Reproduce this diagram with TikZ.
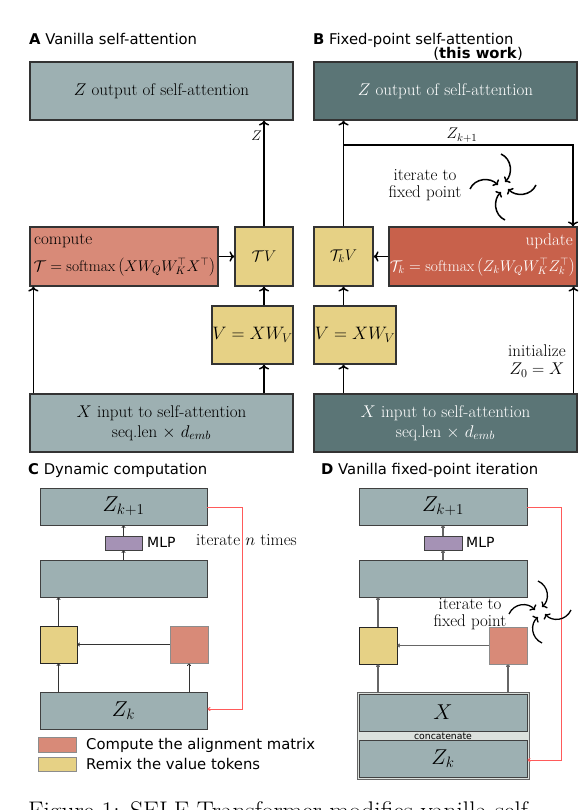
\RequirePackage{fix-cm}
\documentclass[tikz,border=0pt]{standalone}
\usepackage{fontspec}
\newfontfamily\sansdv{DejaVu Sans}
\usetikzlibrary{arrows.meta}
\definecolor{cGray}{HTML}{9DB0B2}
\definecolor{cDark}{HTML}{5B7576}
\definecolor{cSalmon}{HTML}{D88A78}
\definecolor{cUpdate}{HTML}{C8614B}
\definecolor{cYellow}{HTML}{E6D185}
\definecolor{cMlp}{HTML}{A592B5}
\definecolor{cConcat}{HTML}{DCE1DD}
\definecolor{cRed}{HTML}{FF5A5A}
\tikzset{
  box/.style={draw=black!80, line width=1.3pt, inner sep=0pt, align=center, font=\fontsize{17}{20}\selectfont},
  gbox/.style={box, fill=cGray},
  dbox/.style={box, fill=cDark, text=white},
  sbox/.style={box, fill=cSalmon},
  ubox/.style={box, fill=cUpdate, text=white},
  ybox/.style={box, fill=cYellow},
  txt/.style={inner sep=0pt, align=center, font=\fontsize{17}{16.5}\selectfont},
  form/.style={inner sep=0pt, font=\fontsize{15.5}{17}\selectfont},
  ttl/.style={inner sep=0pt, font=\sansdv\fontsize{14.8}{17}\selectfont},
  conn/.style={-To, line width=1.5pt},
  swirl/.style={-{To[length=4pt,width=9pt]}, line width=1.5pt},
  cbox/.style={draw=black!75, line width=0.9pt, inner sep=0pt, font=\fontsize{21.5}{24}\selectfont},
  carrow/.style={-{To[length=2.5pt,width=4pt]}, line width=0.8pt, draw=black!80},
  darrow/.style={carrow, draw=black!60, line width=1.2pt},
  loopline/.style={draw=cRed, line width=1pt, -{To[length=3pt,width=4pt]}}
}
\begin{document}
\begin{tikzpicture}[x=1pt, y=-1pt]
\useasboundingbox (0,0) rectangle (578,810);
\clip (0,0) rectangle (578,810);

% A: vanilla self-attention
\node[ttl, anchor=base west] (ttlA) at (29,45) {\textbf{A} Vanilla self-attention};
\node[gbox, minimum width=263pt, minimum height=58pt] (outA) at (161.5,91) {$Z$ output of self-attention};
\node[sbox, minimum width=188pt, minimum height=59pt] (compA) at (124,256.5) {};
\node[txt, anchor=base west] (compLbl) at (34,244) {compute};
\node[form] (compForm) at (124.5,267) {$\mathcal{T} = \mathrm{softmax}\left(XW_QW_K^\top X^\top\right)$};
\node[ybox, minimum width=58pt, minimum height=59pt, font=\fontsize{15.5}{17}\selectfont] (tvA) at (264,256.5) {$\mathcal{T}V$};
\node[ybox, minimum width=81pt, minimum height=58pt, font=\fontsize{18}{21}\selectfont] (vA) at (252.5,335) {$V = XW_V$};
\node[gbox, minimum width=263pt, minimum height=58pt] (xinA) at (161.5,423) {$X$ input to self-attention\\ seq.len $\times$ $d_{emb}$};
\draw[conn] (tvA.north) -- (tvA.north |- outA.south) node[pos=0.86, left=1.5pt, inner sep=0pt, font=\fontsize{14}{15}\selectfont] {$Z$};
\draw[conn] (compA.east) -- (tvA.west);
\draw[conn] (vA.north -| tvA) -- (tvA.south);
\draw[conn] (xinA.north -| tvA) -- (vA.south -| tvA);
\draw[conn] ([xshift=4pt]xinA.north west) -- ([xshift=4pt]compA.south west);

% B: fixed-point self-attention
\node[ttl, anchor=base west] (ttlB) at (313,45) {\textbf{B} Fixed-point self-attention};
\node[ttl, anchor=base east] (ttlB2) at (523,59) {(\textbf{this work})};
\node[dbox, minimum width=263pt, minimum height=58pt] (outB) at (445.5,91) {$Z$ output of self-attention};
\node[ybox, minimum width=59pt, minimum height=59pt, font=\fontsize{15.5}{17}\selectfont] (tkvB) at (343.5,256.5) {$\mathcal{T}_kV$};
\node[ubox, minimum width=188pt, minimum height=59pt] (updB) at (483,256.5) {};
\node[txt, anchor=base east, text=white] (updLbl) at (573,245) {update};
\node[form, text=white] (updForm) at (482.5,267) {$\mathcal{T}_k = \mathrm{softmax}\left(Z_kW_QW_K^\top Z_k^\top\right)$};
\node[ybox, minimum width=82pt, minimum height=58pt, font=\fontsize{18}{21}\selectfont] (vB) at (355,335) {$V = XW_V$};
\node[dbox, minimum width=263pt, minimum height=58pt] (xinB) at (445.5,423) {$X$ input to self-attention\\ seq.len $\times$ $d_{emb}$};
\coordinate (loopB) at (343.5,145);
\coordinate (loopBr) at (573,145);
\draw[conn] (tkvB.north) -- (tkvB.north |- outB.south);
\draw[conn] (loopB) -- (loopBr) -- (loopBr |- updB.north);
\node[inner sep=0pt, font=\fontsize{15.5}{16}\selectfont] (zkB) at (462,135) {$Z_{k+1}$};
\node[txt] (iterB) at (425,185) {iterate to\\ fixed point};
\foreach \r in {0,90,180,270}
  \draw[swirl, shift={(503,187)}, rotate=\r] (-2,-33) .. controls (9,-28) and (10,-13) .. (2,-5);
\draw[conn] (updB.west) -- (tkvB.east);
\draw[conn] (vB.north -| tkvB) -- (tkvB.south);
\draw[conn] (xinB.north -| tkvB) -- (vB.south -| tkvB);
\draw[conn] ([xshift=-4pt]xinB.north east) -- ([xshift=-4pt]updB.south east);
\node[txt, font=\fontsize{17}{18}\selectfont] (initB) at (537,361) {initialize\\ $Z_0 = X$};

% C: dynamic computation
\node[ttl, anchor=base west] (ttlC) at (28,474) {\textbf{C} Dynamic computation};
\node[cbox, fill=cGray, minimum width=167pt, minimum height=37pt] (zkaC) at (123.5,506.5) {$Z_{k+1}$};
\node[cbox, fill=cMlp, minimum width=37pt, minimum height=14pt] (mlpC) at (123.5,543) {};
\node[ttl, anchor=base west, font=\sansdv\fontsize{14}{16}\selectfont] (mlpCl) at (147,547) {MLP};
\node[cbox, fill=cGray, minimum width=167pt, minimum height=37pt] (midC) at (123.5,578.5) {};
\node[cbox, fill=cYellow, draw=black!85, minimum width=37pt, minimum height=37pt] (yelC) at (58.5,644.5) {};
\node[cbox, fill=cSalmon, draw=black!45, minimum width=38pt, minimum height=37pt] (salC) at (189,644.5) {};
\node[cbox, fill=cGray, minimum width=167pt, minimum height=37pt] (zkC) at (123.5,710.5) {$Z_k$};
\draw[carrow] (mlpC.north) -- (zkaC.south);
\draw[carrow] (midC.north) -- (mlpC.south);
\draw[carrow] (yelC.north) -- (yelC.north |- midC.south);
\draw[carrow] (salC.west) -- (yelC.east);
\draw[carrow] (zkC.north -| yelC) -- (yelC.south);
\draw[carrow] (zkC.north -| salC) -- (salC.south);
\coordinate (loopCt) at (242,507);
\coordinate (loopCb) at (242,709);
\draw[loopline] (zkaC.east |- loopCt) -- (loopCt) -- (loopCb) -- (zkC.east |- loopCb);
\node[txt] (iterC) at (246.5,540) {iterate $n$ times};
\node[cbox, fill=cSalmon, draw=black!45, minimum width=38pt, minimum height=15pt] (legS) at (57,744.5) {};
\node[cbox, fill=cYellow, draw=black!45, minimum width=38pt, minimum height=14pt] (legY) at (57,764) {};
\node[ttl, anchor=base west] (legSl) at (86,749) {Compute the alignment matrix};
\node[ttl, anchor=base west] (legYl) at (86,769) {Remix the value tokens};

% D: vanilla fixed-point iteration
\node[ttl, anchor=base west] (ttlD) at (321,474) {\textbf{D} Vanilla fixed-point iteration};
\node[cbox, fill=cGray, minimum width=168pt, minimum height=37pt] (zkaD) at (443,506.5) {$Z_{k+1}$};
\node[cbox, fill=cMlp, minimum width=38pt, minimum height=14pt] (mlpD) at (443,543) {};
\node[ttl, anchor=base west, font=\sansdv\fontsize{14}{16}\selectfont] (mlpDl) at (466,547) {MLP};
\node[cbox, fill=cGray, minimum width=168pt, minimum height=37pt] (midD) at (443,578.5) {};
\node[cbox, fill=cYellow, draw=black!85, minimum width=38pt, minimum height=37pt] (yelD) at (378,645.5) {};
\node[cbox, fill=cSalmon, draw=black!45, minimum width=38pt, minimum height=37pt] (salD) at (508,645.5) {};
\node[cbox, fill=cConcat, draw=black!60, minimum width=172pt, minimum height=87pt] (catD) at (443,735.5) {};
\node[cbox, fill=cGray, minimum width=168pt, minimum height=37pt] (xD) at (443,712.5) {$X$};
\node[cbox, fill=cGray, minimum width=168pt, minimum height=37pt] (zkD) at (443,758.5) {$Z_k$};
\node[ttl, font=\sansdv\fontsize{9.3}{10}\selectfont] (catDl) at (443,736) {concatenate};
\draw[darrow] (mlpD.north) -- (zkaD.south);
\draw[darrow] (midD.north) -- (mlpD.south);
\draw[darrow] (yelD.north) -- (yelD.north |- midD.south);
\draw[darrow] (salD.west) -- (yelD.east);
\draw[darrow] (catD.north -| yelD) -- (yelD.south);
\draw[darrow] (catD.north -| salD) -- (salD.south);
\coordinate (loopDt) at (561,507);
\coordinate (loopDb) at (561,760);
\draw[loopline] (zkaD.east |- loopDt) -- (loopDt) -- (loopDb) -- (zkD.east |- loopDb);
\node[txt] (iterD) at (470,614) {iterate to\\ fixed point};
\foreach \r in {0,90,180,270}
  \draw[swirl, line width=1.3pt, shift={(540,612)}, rotate=\r] (-2,-31) .. controls (9,-26) and (10,-12) .. (2,-5);

% caption, cut by the page edge
\node[inner sep=0pt, anchor=base west, font=\fontsize{25.5}{28}\selectfont] (capt) at (28,819.5) {Figure 1: SELF Transformer modifies vanilla self};
\end{tikzpicture}
\end{document}
